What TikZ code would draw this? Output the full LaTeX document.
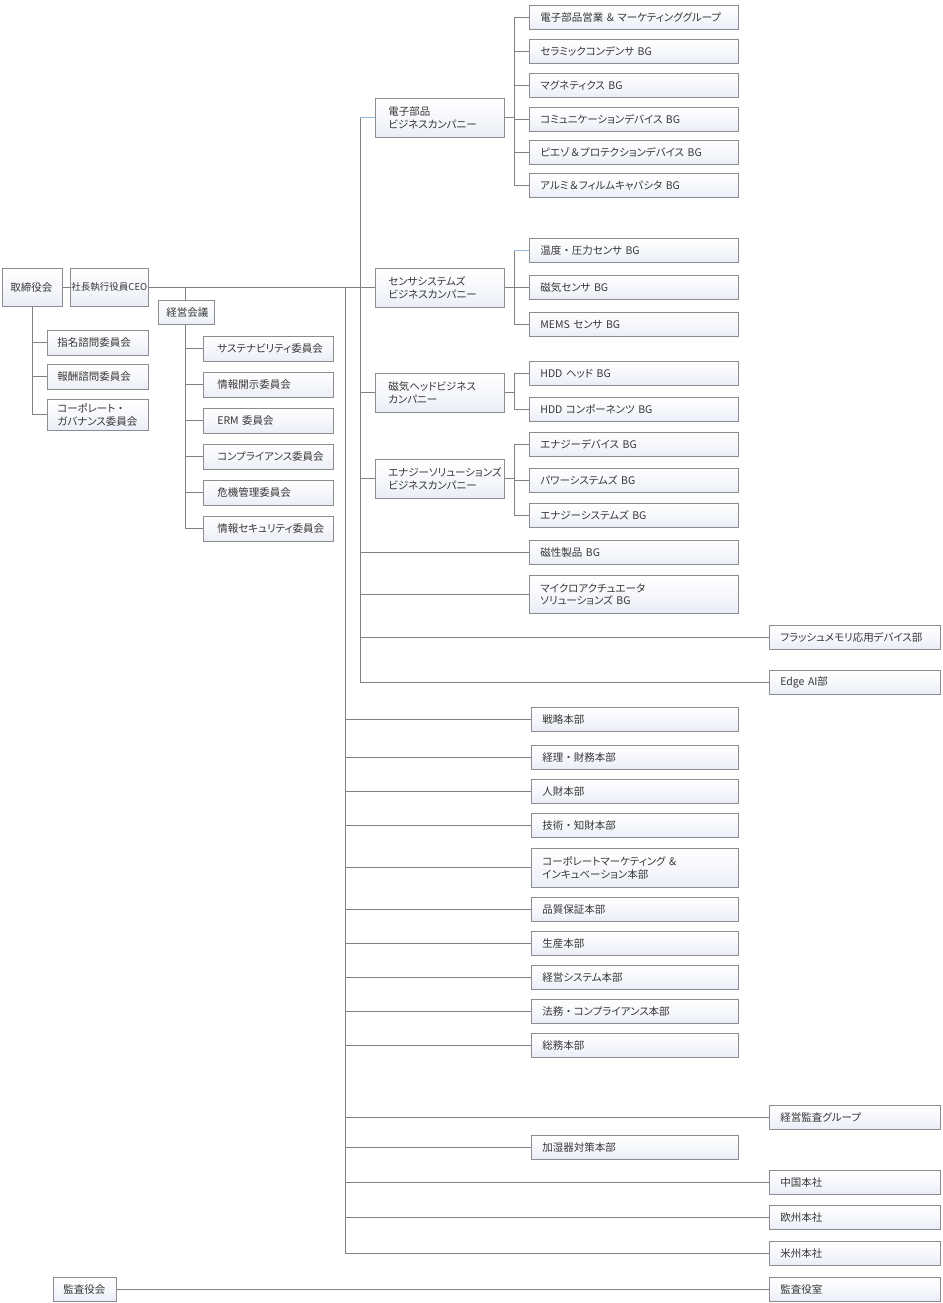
\documentclass[tikz,border=0pt]{standalone}
\usepackage{fontspec}
\setmainfont{Noto Sans CJK JP}[RawFeature=+palt]
\newfontfamily\fwfont{Noto Sans CJK JP}
\newcommand{\dotfw}{{\fwfont ・}}
\newcommand{\ampfw}{{\fwfont ＆}}
\usetikzlibrary{shadows}
\definecolor{ln}{RGB}{128,128,128}
\definecolor{bd}{RGB}{140,140,146}
\definecolor{tx}{RGB}{55,55,55}
\definecolor{bb}{RGB}{233,237,246}
\definecolor{lb}{RGB}{150,182,222}
\begin{document}
\begin{tikzpicture}[x=1pt,y=-1pt,
  box/.style={draw=bd, line width=0.7pt, top color=white, bottom color=bb, middle color=white!60!bb, text=tx,
    anchor=north west, align=left, inner ysep=0pt,
    font=\fontsize{10.5}{12.5}\selectfont,
    drop shadow={shadow xshift=1pt, shadow yshift=-1pt, opacity=0.3, fill=black}},
  bgbox/.style={box, text width=187pt, inner xsep=11pt, minimum height=24pt},
  hqbox/.style={box, text width=185pt, inner xsep=11pt, minimum height=24pt},
  rtbox/.style={box, text width=149pt, inner xsep=11pt, minimum height=24pt},
  bcbox/.style={box, text width=103pt, inner xsep=13pt, minimum height=39pt},
  cmbox/.style={box, text width=102pt, inner xsep=14pt, minimum height=25pt},
  lfbox/.style={box, text width=81pt, inner xsep=10pt, minimum height=25pt},
  conn/.style={draw=ln, line width=0.8pt},
  bconn/.style={draw=lb, line width=0.8pt}
]
\fill[white] (0,0) rectangle (942,1303);
\useasboundingbox (0,0) rectangle (942,1303);

% ---- left group
\node[box, text width=44pt, inner xsep=8pt, minimum height=38pt] (board) at (2,268) {取締役会};
\node[box, text width=76pt, inner xsep=1pt, minimum height=38pt, align=center] (ceo) at (70,268) {\fontsize{9.5}{11}\selectfont 社長執行役員CEO};
\node[lfbox] (nom) at (47,330) {指名諮問委員会};
\node[lfbox] (rem) at (47,364) {報酬諮問委員会};
\node[lfbox, minimum height=31pt] (cg) at (47,399) {コーポレート\dotfw\\ガバナンス委員会};
\node[box, text width=40pt, inner xsep=8pt, minimum height=24pt, align=center] (keiei) at (158,300) {経営会議};
\node[cmbox] (c1) at (203,336) {サステナビリティ委員会};
\node[cmbox] (c2) at (203,372) {情報開示委員会};
\node[cmbox] (c3) at (203,408) {ERM 委員会};
\node[cmbox] (c4) at (203,444) {コンプライアンス委員会};
\node[cmbox] (c5) at (203,480) {危機管理委員会};
\node[cmbox] (c6) at (203,516) {情報セキュリティ委員会};

% ---- business companies
\node[bcbox] (ebc) at (375,98) {電子部品\\ビジネスカンパニー};
\node[bcbox] (sbc) at (375,268) {センサシステムズ\\ビジネスカンパニー};
\node[bcbox] (mbc) at (375,373) {磁気ヘッドビジネス\\カンパニー};
\node[bcbox] (nbc) at (375,459) {エナジーソリューションズ\\ビジネスカンパニー};

\node[bgbox] (e1) at (529,5) {電子部品営業 \& マーケティンググループ};
\node[bgbox] (e2) at (529,39) {セラミックコンデンサ BG};
\node[bgbox] (e3) at (529,73) {マグネティクス BG};
\node[bgbox] (e4) at (529,107) {コミュニケーションデバイス BG};
\node[bgbox] (e5) at (529,140) {ピエゾ\ampfw プロテクションデバイス BG};
\node[bgbox] (e6) at (529,173) {アルミ\ampfw フィルムキャパシタ BG};

\node[bgbox] (s1) at (529,238) {温度\dotfw 圧力センサ BG};
\node[bgbox] (s2) at (529,275) {磁気センサ BG};
\node[bgbox] (s3) at (529,312) {MEMS センサ BG};

\node[bgbox] (m1) at (529,361) {HDD ヘッド BG};
\node[bgbox] (m2) at (529,397) {HDD コンポーネンツ BG};

\node[bgbox] (n1) at (529,432) {エナジーデバイス BG};
\node[bgbox] (n2) at (529,468) {パワーシステムズ BG};
\node[bgbox] (n3) at (529,503) {エナジーシステムズ BG};

\node[bgbox] (mag) at (529,540) {磁性製品 BG};
\node[bgbox, minimum height=38pt] (micro) at (529,575) {マイクロアクチュエータ\\ソリューションズ BG};
\node[rtbox] (flash) at (769,625) {フラッシュメモリ応用デバイス部};
\node[rtbox] (edge) at (769,670) {Edge AI部};

% ---- headquarters
\node[hqbox] (h1) at (531,707) {戦略本部};
\node[hqbox] (h2) at (531,745) {経理\dotfw 財務本部};
\node[hqbox] (h3) at (531,779) {人財本部};
\node[hqbox] (h4) at (531,813) {技術\dotfw 知財本部};
\node[hqbox, minimum height=39pt] (h5) at (531,848) {コーポレートマーケティング \&\\インキュベーション本部};
\node[hqbox] (h6) at (531,897) {品質保証本部};
\node[hqbox] (h7) at (531,931) {生産本部};
\node[hqbox] (h8) at (531,965) {経営システム本部};
\node[hqbox] (h9) at (531,999) {法務\dotfw コンプライアンス本部};
\node[hqbox] (h10) at (531,1033) {総務本部};
\node[rtbox] (audit) at (769,1105) {経営監査グループ};
\node[hqbox] (humid) at (531,1135) {加湿器対策本部};
\node[rtbox] (china) at (769,1170) {中国本社};
\node[rtbox] (europe) at (769,1205) {欧州本社};
\node[rtbox] (america) at (769,1241) {米州本社};
\node[rtbox] (kroom) at (769,1277) {監査役室};
\node[box, text width=43pt, inner xsep=10pt, minimum height=24pt] (kansa) at (53,1277) {監査役会};

% ---- trunk coordinates
\coordinate (tA) at (345,287);
\coordinate (tB) at (360,287);
\coordinate (tK) at (185,287);
\coordinate (bE) at (514,0);

% ---- connectors
\draw[conn] (board.east) -- (board.east -| ceo.west);
\draw[conn] (board.south) -- (board.south |- cg.west);
\foreach \n in {nom,rem,cg} \draw[conn] (\n.west -| board.south) -- (\n.west);

\draw[conn] (ceo.east) -- (ceo.east -| sbc.west);
\draw[conn] (tK) -- (tK |- keiei.north);
\draw[conn] (tK |- keiei.south) -- (tK |- c6.west);
\foreach \n in {c1,c2,c3,c4,c5,c6} \draw[conn] (\n.west -| tK) -- (\n.west);

\draw[conn] (tB |- ebc.west) -- (tB |- edge.west);
\draw[bconn] (ebc.west -| tB) -- (ebc.west);
\foreach \n in {mbc,nbc,mag,micro,flash,edge} \draw[conn] (\n.west -| tB) -- (\n.west);

\draw[conn] (ebc.east) -- (ebc.east -| bE);
\draw[conn] (bE |- e1.west) -- (bE |- e6.west);
\foreach \n in {e1,e2,e3,e4,e5,e6} \draw[conn] (\n.west -| bE) -- (\n.west);

\draw[conn] (sbc.east) -- (sbc.east -| bE);
\draw[conn] (bE |- s1.west) -- (bE |- s3.west);
\draw[bconn] (s1.west -| bE) -- (s1.west);
\foreach \n in {s2,s3} \draw[conn] (\n.west -| bE) -- (\n.west);

\draw[conn] (mbc.east) -- (mbc.east -| bE);
\draw[conn] (bE |- m1.west) -- (bE |- m2.west);
\foreach \n in {m1,m2} \draw[conn] (\n.west -| bE) -- (\n.west);

\draw[conn] (nbc.east) -- (nbc.east -| bE);
\draw[conn] (bE |- n1.west) -- (bE |- n3.west);
\foreach \n in {n1,n2,n3} \draw[conn] (\n.west -| bE) -- (\n.west);

\draw[conn] (tA) -- (tA |- america.west);
\foreach \n in {h1,h2,h3,h4,h5,h6,h7,h8,h9,h10,audit,humid,china,europe,america} \draw[conn] (\n.west -| tA) -- (\n.west);

\draw[conn] (kansa.east) -- (kansa.east -| kroom.west);
\end{tikzpicture}
\end{document}
